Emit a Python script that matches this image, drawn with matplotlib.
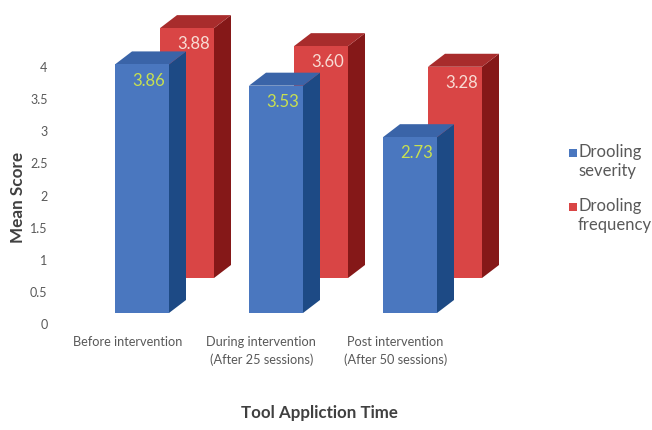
import matplotlib
matplotlib.use("Agg")
import matplotlib.pyplot as plt
from matplotlib.patches import Polygon, Rectangle

# ---- data ----
categories = ["Before intervention", "During intervention\n(After 25 sessions)",
              "Post intervention\n(After 50 sessions)"]
severity = [3.86, 3.53, 2.73]
frequency = [3.88, 3.60, 3.28]
series_names = ["Drooling\nseverity", "Drooling\nfrequency"]
yticks = [0, 0.5, 1, 1.5, 2, 2.5, 3, 3.5, 4]
ytick_labels = ["0", "0.5", "1", "1.5", "2", "2.5", "3", "3.5", "4"]

# ---- style ----
W, H = 652, 430
PX_X = 134.0   # pixels per category
PX_Y = 64.4    # pixels per score unit
bar_w = 54 / PX_X
depth_dx, depth_dy = 17 / PX_X, 13 / PX_Y
back_dx, back_dy = 45 / PX_X, 35 / PX_Y

blue = dict(front="#4a77bf", side="#1d4a85", top="#3a64a8", text="#c8e050")
red = dict(front="#d94545", side="#851818", top="#a82c2c", text="#f8dcd4")

plt.rcParams["font.family"] = ["Lato", "DejaVu Sans"]

fig = plt.figure(figsize=(W / 100, H / 100), dpi=100)
fig.patch.set_facecolor("white")

ax_l, ax_r, ax_t, ax_b = 60, 560, 0, 330
ax = fig.add_axes([ax_l / W, (H - ax_b) / H, (ax_r - ax_l) / W, (ax_b - ax_t) / H])
xmin = -(142 - ax_l) / PX_X
ax.set_xlim(xmin, xmin + (ax_r - ax_l) / PX_X)
ymin = -(ax_b - 313) / PX_Y
ax.set_ylim(ymin, ymin + (ax_b - ax_t) / PX_Y)
ax.axis("off")


def draw_bar(xc, base, v, col, z):
    x0 = xc - bar_w / 2
    x1 = xc + bar_w / 2
    top = base + v
    side = Polygon([(x1, base), (x1 + depth_dx, base + depth_dy),
                    (x1 + depth_dx, top + depth_dy), (x1, top)],
                   closed=True, facecolor=col["side"], edgecolor="none", zorder=z)
    topf = Polygon([(x0, top), (x0 + depth_dx, top + depth_dy),
                    (x1 + depth_dx, top + depth_dy), (x1, top)],
                   closed=True, facecolor=col["top"], edgecolor="none", zorder=z)
    front = Rectangle((x0, base), bar_w, v, facecolor=col["front"],
                      edgecolor="none", zorder=z + 0.1)
    for p in (side, topf, front):
        ax.add_patch(p)
    ax.text(xc + 0.05, top - 0.25, f"{v:.2f}", ha="center", va="center",
            color=col["text"], fontsize=12, zorder=z + 0.2)


for i, v in enumerate(frequency):
    draw_bar(i + back_dx, back_dy, v, red, 2)
for i, v in enumerate(severity):
    draw_bar(i, 0, v, blue, 4)

# category labels
for i, lab in enumerate(categories):
    ax.text(i - 0.11, ymin - 6 / PX_Y, lab, ha="center", va="top",
            fontsize=9.2, color="#595959", linespacing=1.55)

# value axis (on the back wall)
ax2 = fig.add_axes(ax.get_position())
PX_Y2 = 64.25
ymin2 = -(ax_b - 324) / PX_Y2
ax2.set_ylim(ymin2, ymin2 + (ax_b - ax_t) / PX_Y2)
ax2.set_xlim(0, 1)
ax2.patch.set_visible(False)
for s in ax2.spines.values():
    s.set_visible(False)
ax2.set_xticks([])
ax2.set_yticks(yticks)
ax2.set_yticklabels(ytick_labels)
ax2.tick_params(axis="y", length=0, pad=9, labelsize=9, labelcolor="#595959")

# axis titles
fig.text(18 / W, 1 - 197 / H, "Mean Score", rotation=90, ha="center", va="center",
         fontsize=12.3, fontweight="bold", color="#404040")
fig.text(319 / W, 1 - 413 / H, "Tool Appliction Time", ha="center", va="center",
         fontsize=12.2, fontweight="bold", color="#404040")

# legend
for k, (name, col) in enumerate(zip(series_names, [blue, red])):
    yc = 153 + k * 54
    fig.patches.append(Rectangle((569 / W, 1 - (yc + 4) / H), 8 / W, 8 / H,
                                 transform=fig.transFigure, facecolor=col["front"],
                                 edgecolor="none"))
    fig.text(578 / W, 1 - (yc - 9) / H, name, ha="left", va="top",
             fontsize=12, color="#595959", linespacing=1.2)

fig.savefig("out.png", dpi=100)
